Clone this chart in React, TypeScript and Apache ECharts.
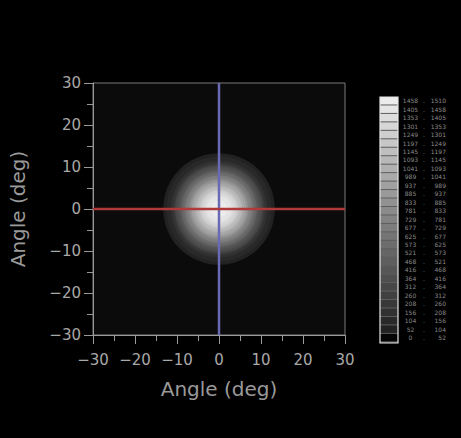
import React, { useEffect, useRef } from "react";
import * as echarts from "echarts";

// Radial intensity profile of the spot (radius in deg, intensity)
const profileRadius = [13.3, 13.0, 12.5, 12.0, 11.5, 11.0, 10.5, 10.0, 9.5, 9.0, 8.5, 8.0, 7.5, 7.0, 6.5, 6.0, 5.5, 5.0, 4.5, 4.0, 3.5, 3.0, 2.5, 2.0, 1.5, 1.0, 0.5];
const profileValue = [60, 80, 110, 150, 200, 255, 315, 380, 450, 525, 605, 690, 775, 860, 945, 1025, 1105, 1180, 1250, 1310, 1365, 1410, 1445, 1470, 1490, 1500, 1508];
const spotCenter = [0, 0];

// Cross-hair lines
const hLineX = [-30, 30];
const hLineY = [0, 0];
const vLineX = [0, 0];
const vLineY = [-30, 30];

// Legend level boundaries
const legendBounds = [0, 52, 104, 156, 208, 260, 312, 364, 416, 468, 521, 573, 625, 677, 729, 781, 833, 885, 937, 989, 1041, 1093, 1145, 1197, 1249, 1301, 1353, 1405, 1458, 1510];

const axisTicks = [-30, -20, -10, 0, 10, 20, 30];

const FONT = "DejaVu Sans";

function grayFor(i: number): string {
  if (i === 0) return "#050505";
  const g = Math.round(34 + (i - 1) * (202 / 27));
  const h = g.toString(16).padStart(2, "0");
  return "#" + h + h + h;
}

export default function App() {
  const ref = useRef<HTMLDivElement>(null);
  useEffect(() => {
    document.body.style.background = "#000";
    const chart = echarts.init(ref.current!, null, { renderer: "svg" });
    const pieces = legendBounds.slice(0, -1).map((lo, i) => ({
      gte: lo,
      lt: legendBounds[i + 1],
      color: grayFor(i),
      label: `{a|${lo}}{d|.}{b|${legendBounds[i + 1]}}`,
    }));
    const spotData = profileRadius.map((r, i) => [spotCenter[0], spotCenter[1], r, profileValue[i]]);
    const fmt = (v: number) => (v < 0 ? "\u2212" + Math.abs(v) : String(v));
    const axisCommon = {
      type: "value" as const,
      min: axisTicks[0],
      max: axisTicks[axisTicks.length - 1],
      interval: 10,
      nameLocation: "middle" as const,
      name: "Angle (deg)",
      nameTextStyle: { color: "#9a9a9a", fontSize: 20, fontFamily: FONT },
      axisLine: { show: true, onZero: false, lineStyle: { color: "#9a9a9a", width: 1 } },
      axisTick: { show: true, length: 9, lineStyle: { color: "#9a9a9a" } },
      minorTick: { show: true, splitNumber: 2, length: 6, lineStyle: { color: "#9a9a9a" } },
      splitLine: { show: false },
      axisLabel: { color: "#a8a8a8", fontSize: 15, fontFamily: FONT, formatter: fmt },
    };
    chart.setOption({
      animation: false,
      backgroundColor: "#000",
      grid: {
        left: 92,
        top: 83,
        width: 253,
        height: 252,
        show: true,
        borderColor: "#7a7a7a",
        borderWidth: 1,
        backgroundColor: "#0b0b0b",
      },
      xAxis: { ...axisCommon, nameGap: 44, axisLabel: { ...axisCommon.axisLabel, margin: 17 } },
      yAxis: { ...axisCommon, nameGap: 65, axisLabel: { ...axisCommon.axisLabel, margin: 12 } },
      visualMap: {
        type: "piecewise",
        seriesIndex: 0,
        dimension: 3,
        orient: "vertical",
        align: "left",
        left: 380,
        top: 97,
        padding: 0,
        itemWidth: 18,
        itemHeight: 7.46,
        itemGap: 1,
        itemSymbol: "rect",
        textGap: 5,
        selectedMode: false,
        hoverLink: false,
        pieces,
        textStyle: {
          color: "#8a8a8a",
          fontSize: 6,
          lineHeight: 7,
          fontFamily: FONT,
          rich: {
            a: { width: 15, align: "right", fontSize: 6, lineHeight: 7, color: "#8a8a8a", fontFamily: FONT },
            d: { width: 12, align: "center", fontSize: 6, lineHeight: 7, color: "#8a8a8a", fontFamily: FONT },
            b: { width: 16, align: "right", fontSize: 6, lineHeight: 7, color: "#8a8a8a", fontFamily: FONT },
          },
        },
      },
      graphic: [
        { type: "rect", z: 1, shape: { x: 380, y: 97, width: 18, height: 246 }, style: { fill: "#5e5e5e" } },
        { type: "rect", z: 10, shape: { x: 380, y: 97, width: 18, height: 246 }, style: { fill: "none", stroke: "#e4e4e4", lineWidth: 1.2 } },
      ],
      series: [
        {
          type: "custom",
          data: spotData,
          renderItem: (params: any, api: any) => {
            const c = api.coord([api.value(0), api.value(1)]);
            const r = api.size([api.value(2), 0])[0];
            return {
              type: "circle",
              shape: { cx: c[0], cy: c[1], r },
              style: { fill: api.visual("color") },
            };
          },
          z: 2,
        },
        {
          type: "line",
          data: vLineX.map((x, i) => [x, vLineY[i]]),
          symbol: "none",
          lineStyle: { color: "#6a6ab4", width: 2.5 },
          z: 3,
        },
        {
          type: "line",
          data: hLineX.map((x, i) => [x, hLineY[i]]),
          symbol: "none",
          lineStyle: { color: "#b03a3a", width: 2.5 },
          z: 4,
        },
      ],
    });
    return () => chart.dispose();
  }, []);
  return (
    <div
      ref={ref}
      style={{ position: "absolute", left: 0, top: 0, width: 461, height: 438 }}
    />
  );
}
